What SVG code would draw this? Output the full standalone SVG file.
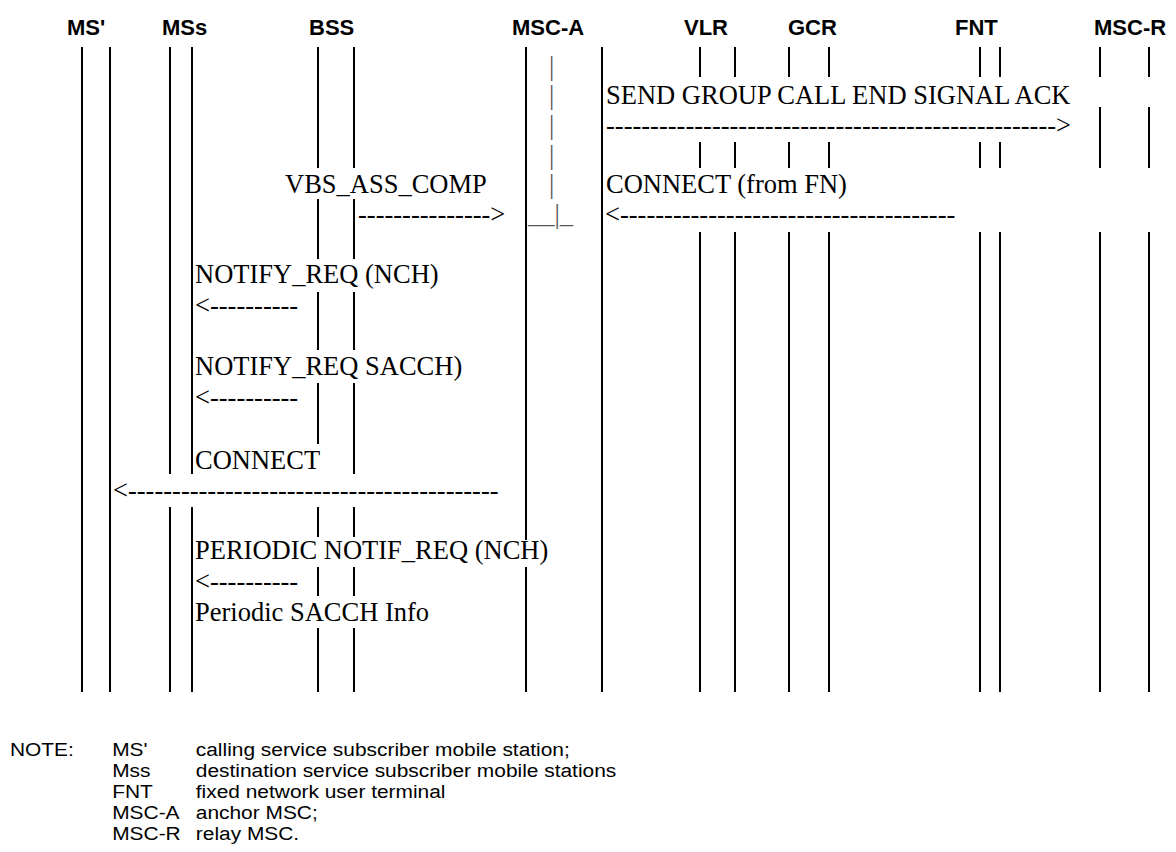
<svg xmlns="http://www.w3.org/2000/svg" width="1176" height="852" viewBox="0 0 1176 852">
<style>
.hdr{font-family:"Liberation Sans",Arial,sans-serif;font-weight:bold;font-size:22px;fill:#000}
.msg{font-family:"Liberation Serif","Times New Roman",serif;font-size:26.5px;fill:#000}
.bar{font-family:"Liberation Serif","Times New Roman",serif;font-size:26.5px;fill:#555}
.note{font-family:"Liberation Sans",Arial,sans-serif;font-size:19px;fill:#000}
.ll{stroke:#000;stroke-width:2;fill:none}
</style>
<rect width="1176" height="852" fill="#fff"/>
<g id="node-MSprime">
<text class="hdr" x="67" y="35">MS'</text>
<path class="ll" d="M82,47V692M110,47V692"/>
</g>
<g id="node-MSs">
<text class="hdr" x="162" y="35">MSs</text>
<path class="ll" d="M170,47V474M170,507V692M192,47V474M192,507V692"/>
</g>
<g id="node-BSS">
<text class="hdr" x="309" y="35">BSS</text>
<path class="ll" d="M318,47V168M318,199V259M318,292V350M318,383V444M318,507V537M318,567V596M318,628V692"/>
<path class="ll" d="M354,47V168M354,199V259M354,292V350M354,383V474M354,507V537M354,567V596M354,628V692"/>
</g>
<g id="node-MSC-A">
<text class="hdr" x="512" y="35">MSC-A</text>
<path class="ll" d="M526,47V540M526,567V692M602,47V692"/>
<text class="bar" x="549" y="75">|</text>
<text class="bar" x="549" y="104">|</text>
<text class="bar" x="549" y="134">|</text>
<text class="bar" x="549" y="164">|</text>
<text class="bar" x="549" y="193">|</text>
<text class="bar" x="528" y="223">__|_</text>
</g>
<g id="node-VLR">
<text class="hdr" x="684" y="35">VLR</text>
<path class="ll" d="M700,47V77M700,142V168M700,232V692M735,47V77M735,142V168M735,232V692"/>
</g>
<g id="node-GCR">
<text class="hdr" x="788" y="35">GCR</text>
<path class="ll" d="M789,47V77M789,142V168M789,232V692M829,47V77M829,142V168M829,232V692"/>
</g>
<g id="node-FNT">
<text class="hdr" x="955" y="35">FNT</text>
<path class="ll" d="M980,47V77M980,142V168M980,232V692M1000,47V77M1000,142V168M1000,232V692"/>
</g>
<g id="node-MSC-R">
<text class="hdr" x="1094" y="35">MSC-R</text>
<path class="ll" d="M1100,47V77M1100,107V168M1100,232V692M1149,47V77M1149,107V168M1149,232V692"/>
</g>
<g id="connectors">
<text class="msg" x="606" y="104">SEND GROUP CALL END SIGNAL ACK</text>
<text class="msg" x="606" y="134">---------------------------------------------------&gt;</text>
<text class="msg" x="285" y="193">VBS_ASS_COMP</text>
<text class="msg" x="358" y="223">---------------&gt;</text>
<text class="msg" x="606" y="193">CONNECT (from FN)</text>
<text class="msg" x="605" y="223">&lt;--------------------------------------</text>
<text class="msg" x="195" y="283">NOTIFY_REQ (NCH)</text>
<text class="msg" x="195" y="314">&lt;----------</text>
<text class="msg" x="195" y="375">NOTIFY_REQ SACCH)</text>
<text class="msg" x="195" y="406">&lt;----------</text>
<text class="msg" x="195" y="469">CONNECT</text>
<text class="msg" x="113" y="499">&lt;------------------------------------------</text>
<text class="msg" x="195" y="559">PERIODIC NOTIF_REQ (NCH)</text>
<text class="msg" x="195" y="590">&lt;----------</text>
<text class="msg" x="195" y="621">Periodic SACCH Info</text>
</g>
<g id="note" transform="scale(1.1,1)">
<text class="note" x="9" y="756">NOTE:</text>
<text class="note" x="102" y="756">MS'</text>
<text class="note" x="178" y="756">calling service subscriber mobile station;</text>
<text class="note" x="102" y="777">Mss</text>
<text class="note" x="178" y="777">destination service subscriber mobile stations</text>
<text class="note" x="102" y="798">FNT</text>
<text class="note" x="178" y="798">fixed network user terminal</text>
<text class="note" x="102" y="819">MSC-A</text>
<text class="note" x="178" y="819">anchor MSC;</text>
<text class="note" x="102" y="840">MSC-R</text>
<text class="note" x="178" y="840">relay MSC.</text>
</g>
</svg>
